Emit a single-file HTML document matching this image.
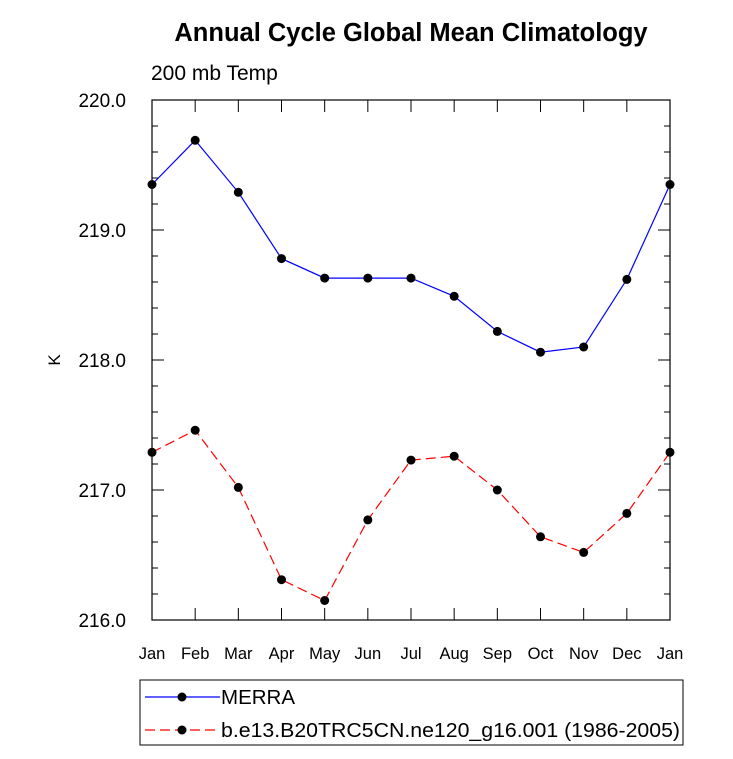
<!DOCTYPE html>
<html><head><meta charset="utf-8"><style>
body{margin:0;background:#fff;font-family:"Liberation Sans",sans-serif}
</style></head><body>
<svg id="c" width="733" height="754" xmlns="http://www.w3.org/2000/svg">
<text x="411" y="41" text-anchor="middle" font-size="25.5" font-weight="bold" font-family="Liberation Sans, sans-serif">Annual Cycle Global Mean Climatology</text>
<text x="151" y="80" font-size="21" font-family="Liberation Sans, sans-serif">200 mb Temp</text>
<text x="60" y="360" font-size="17" text-anchor="middle" transform="rotate(-90 60 360)" font-family="Liberation Sans, sans-serif">K</text>
<g id="axes"></g><g id="marks"></g>
<rect x="140" y="680" width="543" height="65" fill="none" stroke="#000" stroke-width="1"/>
<g>
<line x1="145" y1="697" x2="220" y2="697" stroke="#00f" stroke-width="1.2"/><circle cx="182" cy="697" r="4.5"/>
<text x="221" y="704" font-size="20.5" font-family="Liberation Sans, sans-serif">MERRA</text></g>
<g>
<line x1="145" y1="730" x2="220" y2="730" stroke="#f00" stroke-width="1.2" stroke-dasharray="10,5"/><circle cx="182" cy="730" r="4.5"/>
<text x="221" y="737" font-size="20.5" font-family="Liberation Sans, sans-serif" textLength="459" lengthAdjust="spacingAndGlyphs">b.e13.B20TRC5CN.ne120_g16.001 (1986-2005)</text></g>
</svg>
<script>
const months=["Jan","Feb","Mar","Apr","May","Jun","Jul","Aug","Sep","Oct","Nov","Dec","Jan"];
const merra=[219.35,219.69,219.29,218.78,218.63,218.63,218.63,218.49,218.22,218.06,218.10,218.62,219.35];
const model=[217.29,217.46,217.02,216.31,216.15,216.77,217.23,217.26,217.00,216.64,216.52,216.82,217.29];
const yTicks=["216.0","217.0","218.0","219.0","220.0"];
const L=152,R=670,T=100,B=620,ymin=216,ymax=220;
const xs=i=>L+(R-L)*i/(months.length-1);
const ys=v=>B-(v-ymin)/(ymax-ymin)*(B-T);
const NS="http://www.w3.org/2000/svg";
function mk(p,t,a){const e=document.createElementNS(NS,t);for(const k in a)e.setAttribute(k,a[k]);p.appendChild(e);return e;}
const ax=document.getElementById('axes'),mg=document.getElementById('marks');
const fr=mk(ax,'rect',{x:L,y:T,width:R-L,height:B-T,fill:'none',stroke:'#000','stroke-width':1.2});


for(let v=ymin;v<=ymax+1e-9;v+=0.2){const y=ys(v);const maj=Math.abs(v-Math.round(v))<1e-6;const l=maj?12:6;
mk(ax,'line',{x1:L,y1:y,x2:L+l,y2:y,stroke:'#000'});mk(ax,'line',{x1:R,y1:y,x2:R-l,y2:y,stroke:'#000'});}
yTicks.forEach(t=>{const e=mk(ax,'text',{x:126,y:ys(+t)+7,'text-anchor':'end','font-size':19});e.textContent=t;

});
months.forEach((m,i)=>{const x=xs(i);mk(ax,'line',{x1:x,y1:B,x2:x,y2:B-12,stroke:'#000'});mk(ax,'line',{x1:x,y1:T,x2:x,y2:T+12,stroke:'#000'});
const e=mk(ax,'text',{x:x,y:659,'text-anchor':'middle','font-size':16.5});e.textContent=m;

});
function series(d,col,dash,name){const p=mk(mg,'polyline',{points:d.map((v,i)=>xs(i)+','+ys(v)).join(' '),fill:'none',stroke:col,'stroke-width':1.2,'stroke-dasharray':dash});


d.forEach((v,i)=>{const c=mk(mg,'circle',{cx:xs(i),cy:ys(v),r:4.5,fill:'#000'});

});}
series(merra,'#00f','none','merra');
series(model,'#f00','10,5','model');
</script>
</body></html>
